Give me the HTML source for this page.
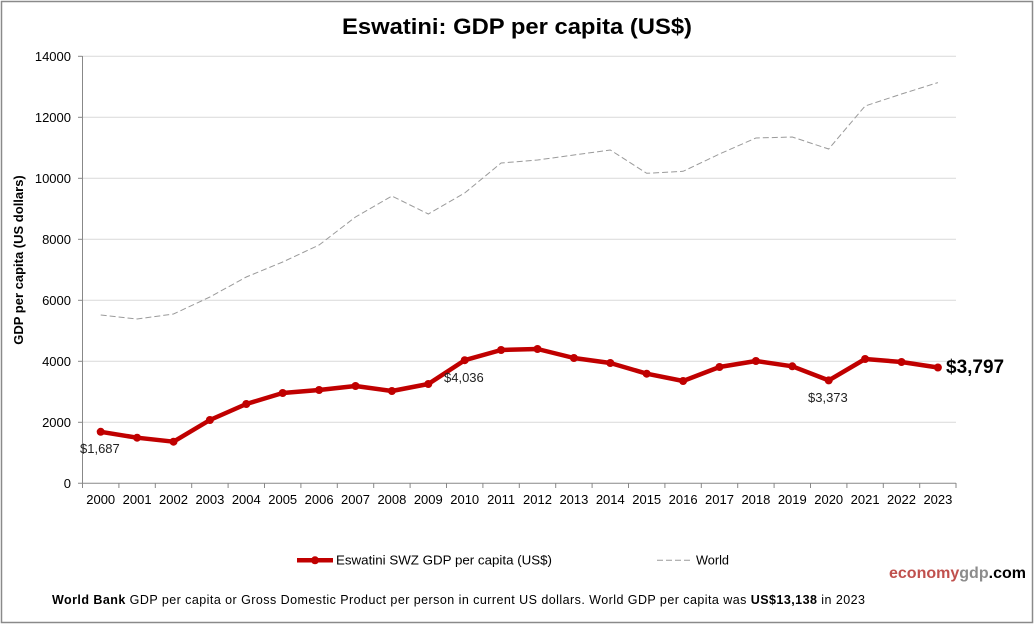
<!DOCTYPE html>
<html><head><meta charset="utf-8"><style>
html,body{margin:0;padding:0;background:#fff;}
svg{display:block;font-family:"Liberation Sans",Arial,sans-serif;}
</style></head><body>
<svg width="1034" height="624" viewBox="0 0 1034 624" xmlns="http://www.w3.org/2000/svg">
<rect x="0" y="0" width="1034" height="624" fill="#fff"/>
<rect x="1.5" y="1.5" width="1031" height="621" fill="none" stroke="#8a8a8a" stroke-width="1.5"/>
<text x="517" y="34" font-size="22" font-weight="bold" text-anchor="middle" textLength="350" lengthAdjust="spacingAndGlyphs" fill="#000">Eswatini: GDP per capita (US$)</text>
<g stroke="#d9d9d9" stroke-width="1">
<line x1="83" y1="56.3" x2="956" y2="56.3"/>
<line x1="83" y1="117.3" x2="956" y2="117.3"/>
<line x1="83" y1="178.3" x2="956" y2="178.3"/>
<line x1="83" y1="239.3" x2="956" y2="239.3"/>
<line x1="83" y1="300.3" x2="956" y2="300.3"/>
<line x1="83" y1="361.3" x2="956" y2="361.3"/>
<line x1="83" y1="422.3" x2="956" y2="422.3"/>
</g>
<g stroke="#888" stroke-width="1">
<line x1="82.5" y1="56" x2="82.5" y2="483.5"/>
<line x1="78" y1="56.3" x2="82.5" y2="56.3"/>
<line x1="78" y1="117.3" x2="82.5" y2="117.3"/>
<line x1="78" y1="178.3" x2="82.5" y2="178.3"/>
<line x1="78" y1="239.3" x2="82.5" y2="239.3"/>
<line x1="78" y1="300.3" x2="82.5" y2="300.3"/>
<line x1="78" y1="361.3" x2="82.5" y2="361.3"/>
<line x1="78" y1="422.3" x2="82.5" y2="422.3"/>
<line x1="78" y1="483.3" x2="956" y2="483.3"/>
<line x1="82.5" y1="483" x2="82.5" y2="488"/>
<line x1="118.9" y1="483" x2="118.9" y2="488"/>
<line x1="155.3" y1="483" x2="155.3" y2="488"/>
<line x1="191.7" y1="483" x2="191.7" y2="488"/>
<line x1="228.1" y1="483" x2="228.1" y2="488"/>
<line x1="264.5" y1="483" x2="264.5" y2="488"/>
<line x1="300.9" y1="483" x2="300.9" y2="488"/>
<line x1="337.3" y1="483" x2="337.3" y2="488"/>
<line x1="373.7" y1="483" x2="373.7" y2="488"/>
<line x1="410.1" y1="483" x2="410.1" y2="488"/>
<line x1="446.5" y1="483" x2="446.5" y2="488"/>
<line x1="482.9" y1="483" x2="482.9" y2="488"/>
<line x1="519.3" y1="483" x2="519.3" y2="488"/>
<line x1="555.7" y1="483" x2="555.7" y2="488"/>
<line x1="592.1" y1="483" x2="592.1" y2="488"/>
<line x1="628.5" y1="483" x2="628.5" y2="488"/>
<line x1="664.9" y1="483" x2="664.9" y2="488"/>
<line x1="701.3" y1="483" x2="701.3" y2="488"/>
<line x1="737.7" y1="483" x2="737.7" y2="488"/>
<line x1="774.1" y1="483" x2="774.1" y2="488"/>
<line x1="810.5" y1="483" x2="810.5" y2="488"/>
<line x1="846.9" y1="483" x2="846.9" y2="488"/>
<line x1="883.3" y1="483" x2="883.3" y2="488"/>
<line x1="919.7" y1="483" x2="919.7" y2="488"/>
<line x1="956" y1="483" x2="956" y2="488"/>
</g>
<g font-size="13" fill="#000" text-anchor="end">
<text x="71" y="60.8">14000</text>
<text x="71" y="121.8">12000</text>
<text x="71" y="182.8">10000</text>
<text x="71" y="243.8">8000</text>
<text x="71" y="304.8">6000</text>
<text x="71" y="365.8">4000</text>
<text x="71" y="426.8">2000</text>
<text x="71" y="487.8">0</text>
</g>
<text transform="translate(23,260) rotate(-90)" font-size="13" font-weight="bold" text-anchor="middle" fill="#000">GDP per capita (US dollars)</text>
<g font-size="13" fill="#000" text-anchor="middle">
<text x="100.7" y="504">2000</text><text x="137.1" y="504">2001</text><text x="173.5" y="504">2002</text><text x="209.9" y="504">2003</text><text x="246.3" y="504">2004</text><text x="282.7" y="504">2005</text><text x="319.1" y="504">2006</text><text x="355.5" y="504">2007</text><text x="391.9" y="504">2008</text><text x="428.3" y="504">2009</text><text x="464.7" y="504">2010</text><text x="501.1" y="504">2011</text><text x="537.5" y="504">2012</text><text x="573.9" y="504">2013</text><text x="610.3" y="504">2014</text><text x="646.7" y="504">2015</text><text x="683.1" y="504">2016</text><text x="719.5" y="504">2017</text><text x="755.9" y="504">2018</text><text x="792.3" y="504">2019</text><text x="828.7" y="504">2020</text><text x="865.1" y="504">2021</text><text x="901.5" y="504">2022</text><text x="937.9" y="504">2023</text>
</g>
<polyline fill="none" stroke="#9a9a9a" stroke-width="1" stroke-dasharray="6,3" points="100.7,315 137.1,319 173.5,314 209.9,297 246.3,277 282.7,262 319.1,245 355.5,217 391.9,196 428.3,214 464.7,193 501.1,163 537.5,160 573.9,155 610.3,150 646.7,173.3 683.1,171.3 719.5,154 755.9,138 792.3,137 828.7,149 865.1,106 901.5,94 937.9,82.6"/>
<polyline fill="none" stroke="#c00000" stroke-width="4.5" stroke-linejoin="round" points="100.7,431.8 137.1,437.7 173.5,441.7 209.9,420 246.3,404 282.7,393 319.1,390 355.5,386 391.9,391 428.3,384 464.7,360.2 501.1,350 537.5,349 573.9,358 610.3,363 646.7,373.7 683.1,381 719.5,367 755.9,361 792.3,366.3 828.7,380.4 865.1,359 901.5,362 937.9,367.5"/>
<g fill="#c00000">
<circle cx="100.7" cy="431.8" r="4"/><circle cx="137.1" cy="437.7" r="4"/><circle cx="173.5" cy="441.7" r="4"/><circle cx="209.9" cy="420" r="4"/><circle cx="246.3" cy="404" r="4"/><circle cx="282.7" cy="393" r="4"/><circle cx="319.1" cy="390" r="4"/><circle cx="355.5" cy="386" r="4"/><circle cx="391.9" cy="391" r="4"/><circle cx="428.3" cy="384" r="4"/><circle cx="464.7" cy="360.2" r="4"/><circle cx="501.1" cy="350" r="4"/><circle cx="537.5" cy="349" r="4"/><circle cx="573.9" cy="358" r="4"/><circle cx="610.3" cy="363" r="4"/><circle cx="646.7" cy="373.7" r="4"/><circle cx="683.1" cy="381" r="4"/><circle cx="719.5" cy="367" r="4"/><circle cx="755.9" cy="361" r="4"/><circle cx="792.3" cy="366.3" r="4"/><circle cx="828.7" cy="380.4" r="4"/><circle cx="865.1" cy="359" r="4"/><circle cx="901.5" cy="362" r="4"/><circle cx="937.9" cy="367.5" r="4"/>
</g>
<g font-size="13" fill="#222">
<text x="80" y="453">$1,687</text>
<text x="444" y="382">$4,036</text>
<text x="808" y="402">$3,373</text>
</g>
<text x="946" y="373" font-size="19" font-weight="bold" fill="#000">$3,797</text>
<line x1="297" y1="560.3" x2="333" y2="560.3" stroke="#c00000" stroke-width="4.5"/>
<circle cx="315" cy="560.3" r="4" fill="#c00000"/>
<text x="336" y="564.5" font-size="13" fill="#000" textLength="216" lengthAdjust="spacingAndGlyphs">Eswatini SWZ GDP per capita (US$)</text>
<line x1="657" y1="560.3" x2="693" y2="560.3" stroke="#9a9a9a" stroke-width="1" stroke-dasharray="6,3"/>
<text x="696" y="564.5" font-size="13" fill="#000" textLength="33" lengthAdjust="spacingAndGlyphs">World</text>
<text x="889" y="578" font-size="16" font-weight="bold" textLength="137" lengthAdjust="spacingAndGlyphs"><tspan fill="#c0504d">economy</tspan><tspan fill="#8c8c8c">gdp</tspan><tspan fill="#000">.com</tspan></text>
<text x="52" y="604" font-size="12.5" fill="#000" textLength="813" lengthAdjust="spacing"><tspan font-weight="bold">World Bank</tspan> GDP per capita or Gross Domestic Product per person in current US dollars.   World GDP per capita was <tspan font-weight="bold">US$13,138</tspan> in 2023</text>
</svg>
</body></html>
